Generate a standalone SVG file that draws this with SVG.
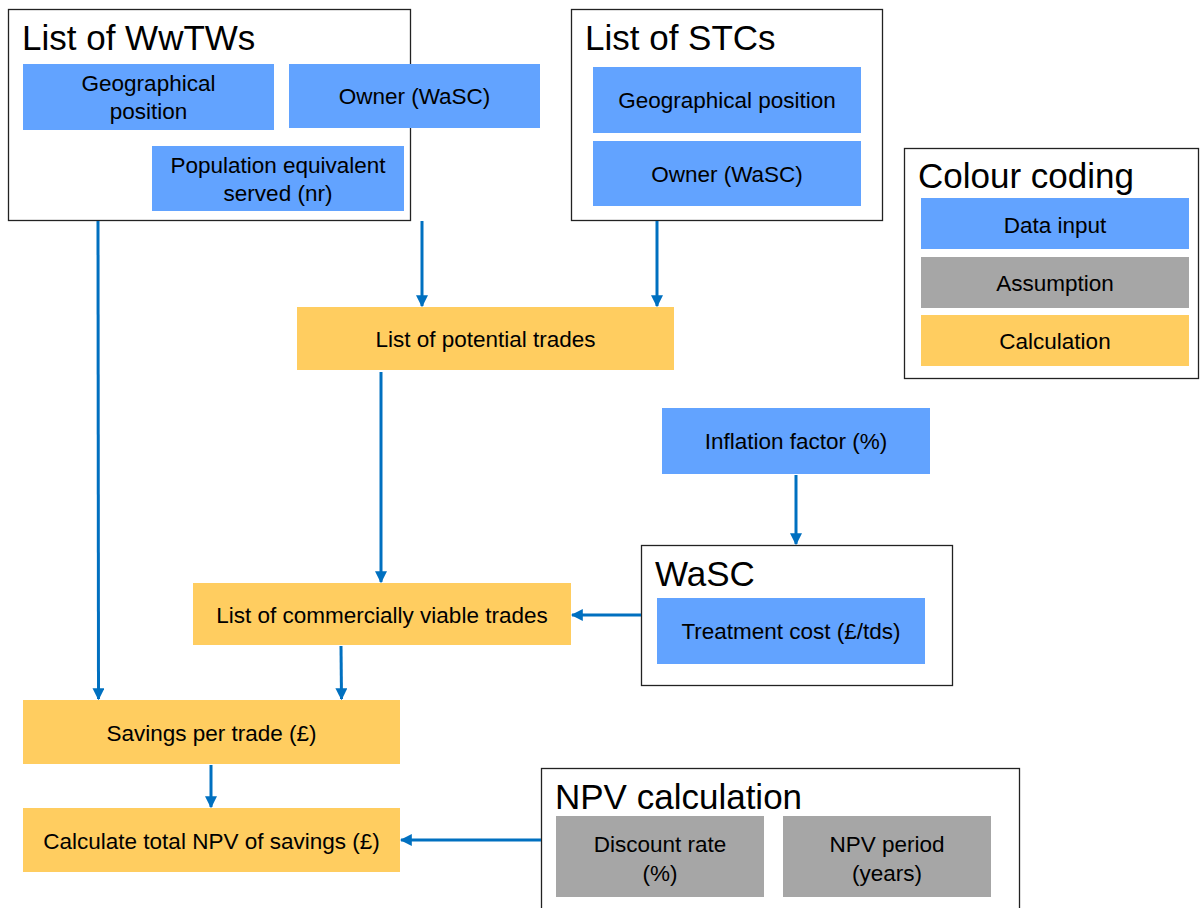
<svg xmlns="http://www.w3.org/2000/svg" width="1200" height="908" viewBox="0 0 1200 908">
<style>
text{font-family:"Liberation Sans",Arial,sans-serif;fill:#000}
.frame{fill:#fff;stroke:#222;stroke-width:1.3}
.title{font-size:35px}
.lbl{font-size:22.5px;text-anchor:middle}
.blue{fill:#62A3FF}
.grey{fill:#A6A6A6}
.yel{fill:#FFCD60}
.conn{stroke:#0070C0;stroke-width:3;fill:none;marker-end:url(#ah)}
</style>
<defs>
<marker id="ah" viewBox="0 0 10 10" refX="9" refY="5" markerWidth="4" markerHeight="4" orient="auto" markerUnits="strokeWidth">
<path d="M0,0 L10,5 L0,10 z" fill="#0070C0"/>
</marker>
</defs>
<rect width="1200" height="908" fill="#fff"/>

<g id="wwtws">
<rect class="frame" x="8.5" y="9.5" width="402" height="211"/>
<text class="title" x="22" y="50">List of WwTWs</text>
<rect class="blue" x="23" y="64" width="251" height="66"/>
<text class="lbl" x="148.5" y="91">Geographical</text>
<text class="lbl" x="148.5" y="119">position</text>
<rect class="blue" x="289" y="64" width="251" height="64"/>
<text class="lbl" x="414.5" y="104">Owner (WaSC)</text>
<rect class="blue" x="152" y="146" width="252" height="65"/>
<text class="lbl" x="278" y="173">Population equivalent</text>
<text class="lbl" x="278" y="201">served (nr)</text>
</g>

<g id="stcs">
<rect class="frame" x="571.5" y="9.5" width="311" height="211"/>
<text class="title" x="585" y="50">List of STCs</text>
<rect class="blue" x="593" y="67" width="268" height="66"/>
<text class="lbl" x="727" y="108">Geographical position</text>
<rect class="blue" x="593" y="141" width="268" height="65"/>
<text class="lbl" x="727" y="182">Owner (WaSC)</text>
</g>

<g id="legend">
<rect class="frame" x="904.5" y="148.5" width="294" height="230"/>
<text class="title" x="918" y="188">Colour coding</text>
<rect class="blue" x="921" y="198" width="268" height="51"/>
<text class="lbl" x="1055" y="233">Data input</text>
<rect class="grey" x="921" y="257" width="268" height="51"/>
<text class="lbl" x="1055" y="291">Assumption</text>
<rect class="yel" x="921" y="315" width="268" height="51"/>
<text class="lbl" x="1055" y="349">Calculation</text>
</g>

<g id="potential">
<rect class="yel" x="297" y="307" width="377" height="63"/>
<text class="lbl" x="485.5" y="347">List of potential trades</text>
</g>

<g id="inflation">
<rect class="blue" x="662" y="408" width="268" height="66"/>
<text class="lbl" x="796" y="449">Inflation factor (%)</text>
</g>

<g id="wasc">
<rect class="frame" x="641.5" y="545.5" width="311" height="140"/>
<text class="title" x="655" y="586">WaSC</text>
<rect class="blue" x="657" y="598" width="268" height="66"/>
<text class="lbl" x="791" y="639">Treatment cost (£/tds)</text>
</g>

<g id="viable">
<rect class="yel" x="193" y="583" width="378" height="62"/>
<text class="lbl" x="382" y="623">List of commercially viable trades</text>
</g>

<g id="savings">
<rect class="yel" x="23" y="700" width="377" height="64"/>
<text class="lbl" x="211.5" y="741">Savings per trade (£)</text>
</g>

<g id="npvtotal">
<rect class="yel" x="23" y="808" width="377" height="64"/>
<text class="lbl" x="211.5" y="849">Calculate total NPV of savings (£)</text>
</g>

<g id="npvcalc">
<rect class="frame" x="541.5" y="768.5" width="478" height="150"/>
<text class="title" x="555" y="809">NPV calculation</text>
<rect class="grey" x="556" y="816" width="208" height="81"/>
<text class="lbl" x="660" y="852">Discount rate</text>
<text class="lbl" x="660" y="881">(%)</text>
<rect class="grey" x="783" y="816" width="208" height="81"/>
<text class="lbl" x="887" y="852">NPV period</text>
<text class="lbl" x="887" y="881">(years)</text>
</g>

<g id="connectors">
<line class="conn" x1="98" y1="221" x2="98.5" y2="699"/>
<line class="conn" x1="422" y1="221" x2="422" y2="306"/>
<line class="conn" x1="657" y1="221" x2="657" y2="306"/>
<line class="conn" x1="381" y1="372" x2="381" y2="582"/>
<line class="conn" x1="796" y1="475" x2="796" y2="544"/>
<line class="conn" x1="641" y1="615" x2="572" y2="615"/>
<line class="conn" x1="341" y1="646" x2="341.5" y2="699"/>
<line class="conn" x1="211" y1="765" x2="211" y2="807"/>
<line class="conn" x1="541" y1="840" x2="401" y2="840"/>
</g>
</svg>
